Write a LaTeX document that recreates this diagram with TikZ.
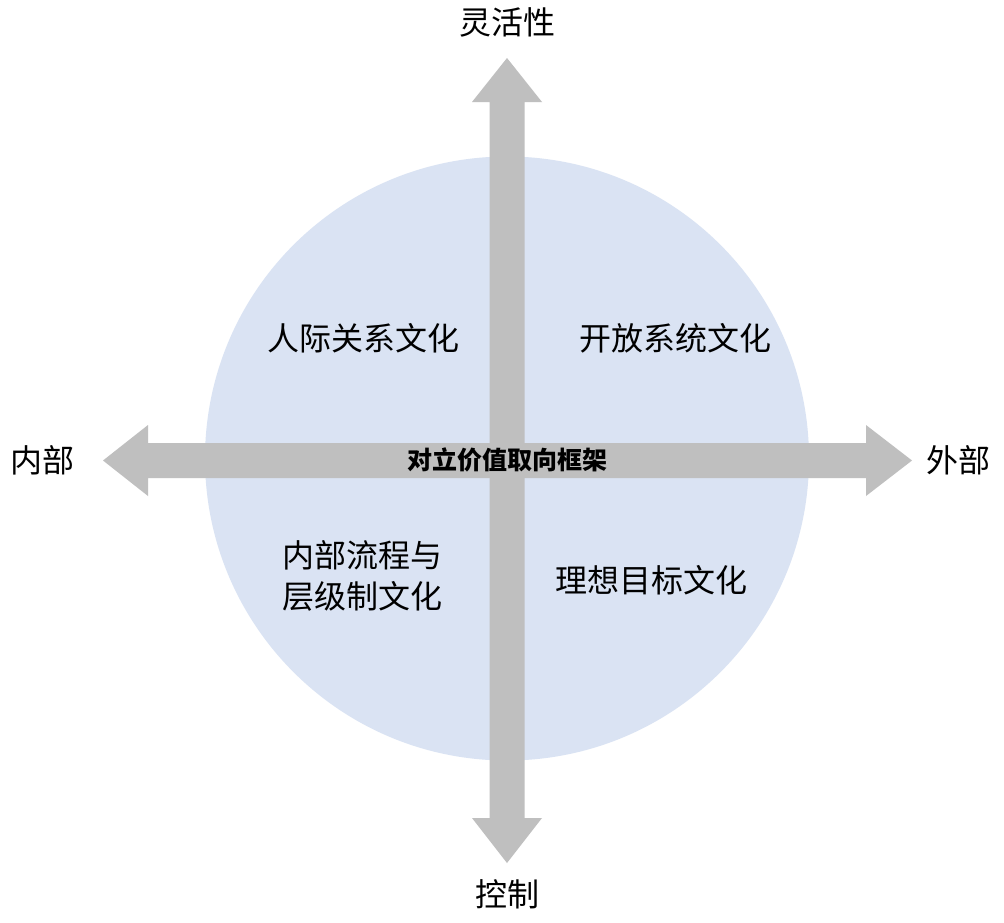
\documentclass[tikz,border=0pt]{standalone}
\usepackage{fontspec}
\setmainfont{Noto Sans CJK SC}
\definecolor{circfill}{HTML}{DAE3F3}
\definecolor{arrgray}{HTML}{BFBFBF}
\begin{document}
\begin{tikzpicture}[x=1pt,y=-1pt,
  lbl/.style={font=\fontsize{32}{41}\selectfont, inner sep=0pt, align=center},
  ctr/.style={font=\fontsize{25}{28}\selectfont\bfseries, inner sep=0pt}]
\useasboundingbox (0,0) rectangle (1004,922);
\fill[white] (0,0) rectangle (1004,922);
\fill[circfill] (507,458.5) circle (302);
% vertical double arrow
\fill[arrgray] (507,58) -- (542,102) -- (524.5,102) -- (524.5,818) -- (542,818) -- (507,863)
  -- (472,818) -- (489.5,818) -- (489.5,102) -- (472,102) -- cycle;
% horizontal double arrow
\fill[arrgray] (103,460.5) -- (148,425) -- (148,443) -- (866,443) -- (866,425) -- (912,460.5)
  -- (866,496) -- (866,478) -- (148,478) -- (148,496) -- cycle;
\node[lbl] (top) at (507,22) {灵活性};
\node[lbl] (bottom) at (507,894) {控制};
\node[lbl] (left) at (42,460) {内部};
\node[lbl] (right) at (958,460) {外部};
\node[lbl] (q1) at (363,338) {人际关系文化};
\node[lbl] (q2) at (675,338) {开放系统文化};
\node[lbl] (q3) at (362,576) {内部流程与\\层级制文化};
\node[lbl] (q4) at (651,580) {理想目标文化};
\node[ctr] (center) at (507,460) {对立价值取向框架};
\end{tikzpicture}
\end{document}
